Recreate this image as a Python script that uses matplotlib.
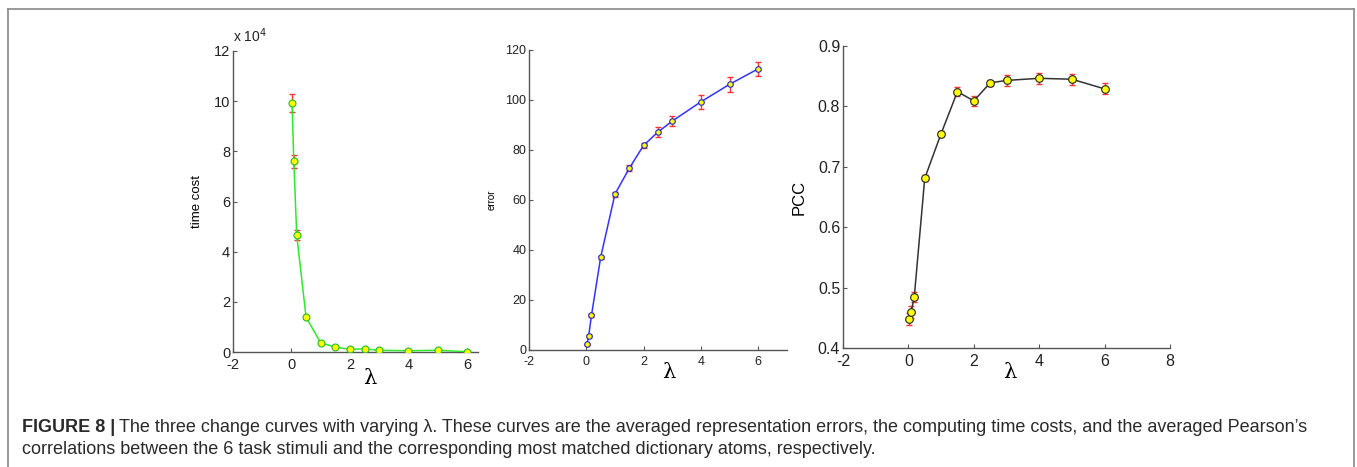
import matplotlib.pyplot as plt
from matplotlib.lines import Line2D

# lambda values (shared by the three curves)
lam = [0.02, 0.08, 0.18, 0.5, 1, 1.5, 2, 2.5, 3, 4, 5, 6]

# computing time cost (x 10^4)
time_cost = [9.92, 7.6, 4.65, 1.38, 0.37, 0.19, 0.11, 0.12, 0.07, 0.05, 0.07, 0.01]
time_err = [0.35, 0.25, 0.2, 0.03, 0.02, 0.02, 0.02, 0.02, 0.02, 0.02, 0.02, 0.02]

# averaged representation error
error = [2.3, 5.5, 13.9, 37.1, 62.4, 72.7, 81.9, 87.2, 91.6, 99.3, 106.3, 112.5]
error_err = [0.3, 0.4, 0.5, 0.6, 1.0, 1.2, 1.0, 1.9, 2.0, 2.9, 3.1, 2.7]

# averaged Pearson correlation
pcc = [0.448, 0.459, 0.485, 0.681, 0.755, 0.8245, 0.809, 0.839, 0.843, 0.8465, 0.845, 0.829]
pcc_err = [0.0105, 0.01, 0.0085, 0.005, 0.004, 0.007, 0.008, 0.005, 0.0085, 0.0095, 0.009, 0.009]

plt.rcParams['font.family'] = ['Liberation Sans', 'DejaVu Sans']
plt.rcParams['axes.unicode_minus'] = False

fig = plt.figure(figsize=(13.57, 4.67), dpi=100)
W, H = 1357, 467


def px_axes(left, right, top, bottom):
    return fig.add_axes([left / W, 1 - bottom / H, (right - left) / W, (bottom - top) / H])


def style(ax, fs):
    for s in ["top", "right"]:
        ax.spines[s].set_visible(False)
    for s in ["left", "bottom"]:
        ax.spines[s].set_color("#555555")
        ax.spines[s].set_linewidth(1.0)
    ax.tick_params(direction="in", length=3, width=0.8, color="#555555",
                   labelsize=fs, labelcolor="#222222", pad=2)
    ax.tick_params(axis="x", pad=4)


def curve(ax, y, e, line_c, edge_c, ms):
    ax.errorbar(lam, y, yerr=e, fmt="none", ecolor="#ff3333", elinewidth=1.0,
                capsize=2.5, capthick=1.0, zorder=2)
    ax.plot(lam, y, "-", color=line_c, lw=1.1, zorder=3)
    ax.plot(lam, y, "o", ms=ms, mfc="#ffff00", mec=edge_c, mew=0.8, zorder=4)


# panel 1: time cost
ax1 = px_axes(233, 478, 51, 352)
curve(ax1, time_cost, time_err, "#2ee82e", "#22bb22", 5)
ax1.set_xlim(-2, 6.38)
ax1.set_ylim(0, 12)
ax1.set_xticks([-2, 0, 2, 4, 6])
ax1.set_yticks([0, 2, 4, 6, 8, 10, 12])
style(ax1, 10.5)
ax1.set_ylabel("time cost", fontsize=9.5, labelpad=8)
ax1.set_xlabel("λ", fontsize=15, family="DejaVu Serif")
ax1.xaxis.set_label_coords(0.56, -0.055)
ax1.text(0.0, 1.02, "x 10$^4$", transform=ax1.transAxes, fontsize=10, color="#222222",
         ha="left", va="bottom")

# panel 2: error
ax2 = px_axes(529, 787, 50, 350)
curve(ax2, error, error_err, "#3333ff", "#2222cc", 4)
ax2.set_xlim(-2, 7)
ax2.set_ylim(0, 120)
ax2.set_xticks([-2, 0, 2, 4, 6])
ax2.set_yticks([0, 20, 40, 60, 80, 100, 120])
style(ax2, 9)
ax2.set_ylabel("error", fontsize=7, labelpad=6)
ax2.set_xlabel("λ", fontsize=15, family="DejaVu Serif")
ax2.xaxis.set_label_coords(0.54, -0.045)

# panel 3: PCC
ax3 = px_axes(843, 1170, 46, 348)
curve(ax3, pcc, pcc_err, "#333333", "#222222", 5.5)
ax3.set_xlim(-2, 8)
ax3.set_ylim(0.4, 0.9)
ax3.set_xticks([-2, 0, 2, 4, 6, 8])
ax3.set_yticks([0.4, 0.5, 0.6, 0.7, 0.8, 0.9])
style(ax3, 11.5)
ax3.set_ylabel("PCC", fontsize=12, labelpad=8)
ax3.set_xlabel("λ", fontsize=15, family="DejaVu Serif")
ax3.xaxis.set_label_coords(0.51, -0.05)

# frame around the figure (open at the bottom)
fc = "#888888"
fig.add_artist(Line2D([8 / W, 8 / W], [0, 1 - 9 / H], color=fc, lw=1.2, transform=fig.transFigure))
fig.add_artist(Line2D([8 / W, 1354 / W], [1 - 9 / H, 1 - 9 / H], color=fc, lw=1.2, transform=fig.transFigure))
fig.add_artist(Line2D([1354 / W, 1354 / W], [0, 1 - 9 / H], color=fc, lw=1.2, transform=fig.transFigure))

# caption
cap1 = fig.text(22 / W, 1 - 428 / H, "FIGURE 8 |", fontsize=13, weight="bold",
                color="#2a2a2a", va="center")
fig.canvas.draw()
bb = cap1.get_window_extent()
fig.text((bb.x1 + 4) / W, 1 - 428 / H,
         "The three change curves with varying λ. These curves are the averaged representation errors, "
         "the computing time costs, and the averaged Pearson’s",
         fontsize=13, color="#2a2a2a", va="center")
fig.text(22 / W, 1 - 450 / H,
         "correlations between the 6 task stimuli and the corresponding most matched dictionary atoms, respectively.",
         fontsize=13, color="#2a2a2a", va="center")

fig.savefig("out.png", dpi=100)
